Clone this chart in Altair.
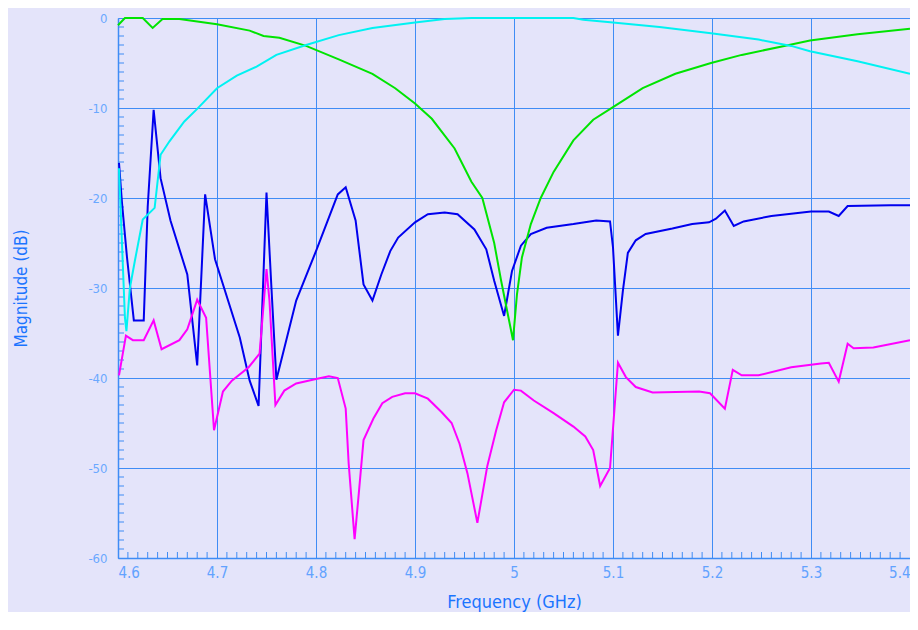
import altair as alt
import pandas as pd

# ---- data ----
blue_f = [4.601, 4.604, 4.609, 4.616, 4.626, 4.630, 4.636, 4.643, 4.653, 4.670,
          4.680, 4.688, 4.698, 4.723, 4.733, 4.742, 4.743, 4.750, 4.755, 4.760,
          4.780, 4.800, 4.822, 4.830, 4.840, 4.848, 4.857, 4.866, 4.875, 4.883,
          4.900, 4.913, 4.930, 4.943, 4.960, 4.972, 4.980, 4.990, 4.998, 5.007,
          5.017, 5.033, 5.060, 5.083, 5.097, 5.100, 5.105, 5.110, 5.115, 5.123,
          5.133, 5.160, 5.180, 5.197, 5.204, 5.213, 5.222, 5.232, 5.260, 5.300,
          5.318, 5.328, 5.337, 5.380, 5.400]
blue_db = [-16.1, -20.5, -26.5, -33.6, -33.6, -21.0, -10.2, -17.8, -22.5, -28.5,
           -38.6, -19.6, -26.8, -35.5, -40.3, -43.1, -40.2, -19.4, -30.0, -40.2,
           -31.4, -25.9, -19.6, -18.8, -22.5, -29.6, -31.4, -28.5, -25.9, -24.4,
           -22.7, -21.8, -21.6, -21.8, -23.5, -25.7, -29.2, -33.1, -28.1, -25.3,
           -24.0, -23.3, -22.9, -22.5, -22.6, -25.5, -35.3, -30.3, -26.1, -24.7,
           -24.0, -23.4, -22.9, -22.7, -22.3, -21.4, -23.1, -22.6, -22.0, -21.5,
           -21.5, -22.0, -20.9, -20.8, -20.8]

magenta_f = [4.601, 4.608, 4.615, 4.626, 4.636, 4.644, 4.662, 4.670, 4.680, 4.689,
             4.697, 4.706, 4.715, 4.732, 4.743, 4.750, 4.753, 4.759, 4.768, 4.780,
             4.800, 4.813, 4.822, 4.830, 4.833, 4.839, 4.843, 4.848, 4.858, 4.867,
             4.877, 4.890, 4.900, 4.913, 4.927, 4.937, 4.945, 4.953, 4.963, 4.973,
             4.982, 4.990, 5.000, 5.007, 5.020, 5.040, 5.060, 5.072, 5.080, 5.087,
             5.097, 5.105, 5.113, 5.123, 5.140, 5.187, 5.198, 5.213, 5.221, 5.230,
             5.247, 5.280, 5.310, 5.318, 5.328, 5.337, 5.343, 5.363, 5.400]
magenta_db = [-39.7, -35.3, -35.8, -35.8, -33.6, -36.8, -35.8, -34.6, -31.3, -33.3,
              -45.8, -41.5, -40.3, -38.8, -37.3, -27.9, -31.4, -43.0, -41.4, -40.6,
              -40.1, -39.8, -40.0, -43.4, -49.5, -57.9, -53.1, -46.9, -44.5, -42.8,
              -42.1, -41.7, -41.7, -42.3, -43.8, -45.0, -47.3, -50.6, -56.1, -49.8,
              -45.8, -42.7, -41.3, -41.4, -42.5, -43.9, -45.4, -46.5, -48.0, -52.0,
              -50.0, -38.3, -39.9, -41.0, -41.6, -41.5, -41.7, -43.4, -39.1, -39.7,
              -39.7, -38.8, -38.4, -38.3, -40.4, -36.2, -36.7, -36.6, -35.8]

cyan_f = [4.601, 4.607, 4.6085, 4.612, 4.617, 4.625, 4.637, 4.643, 4.652, 4.667,
          4.680, 4.700, 4.720, 4.740, 4.760, 4.790, 4.823, 4.857, 4.900, 4.930,
          4.957, 5.060, 5.070, 5.100, 5.147, 5.199, 5.247, 5.280, 5.299, 5.347,
          5.400]
cyan_db = [-16.7, -33.3, -34.8, -30.0, -27.0, -22.4, -21.1, -15.2, -13.7, -11.5,
           -10.1, -7.8, -6.4, -5.4, -4.1, -3.0, -1.9, -1.1, -0.5, -0.1,
           0.0, 0.0, -0.2, -0.5, -1.0, -1.7, -2.4, -3.1, -3.7, -4.8,
           -6.2]

green_f = [4.600, 4.607, 4.625, 4.635, 4.645, 4.662, 4.700, 4.733, 4.747, 4.763,
           4.790, 4.823, 4.857, 4.880, 4.900, 4.917, 4.940, 4.957, 4.968, 4.980,
           4.987, 4.993, 4.999, 5.003, 5.008, 5.017, 5.027, 5.040, 5.060, 5.080,
           5.100, 5.130, 5.163, 5.199, 5.230, 5.273, 5.299, 5.347, 5.400]
green_db = [-0.8, 0.0, 0.0, -1.1, -0.1, -0.1, -0.7, -1.4, -2.0, -2.2,
            -3.1, -4.6, -6.2, -7.8, -9.5, -11.2, -14.5, -18.2, -20.0, -25.0,
            -29.2, -32.5, -35.8, -30.7, -26.6, -22.9, -20.0, -17.1, -13.6, -11.3,
            -9.9, -7.8, -6.2, -5.0, -4.1, -3.1, -2.5, -1.8, -1.2]

x_major = [4.6, 4.7, 4.8, 4.9, 5.0, 5.1, 5.2, 5.3, 5.4]
y_major = [0, -10, -20, -30, -40, -50, -60]
x_minor = [round(4.6 + i / 100, 2) for i in range(1, 80) if i % 10]
y_minor = [v for v in range(-59, 0) if v % 10]

series_names = ["blue", "magenta", "green", "cyan"]
series_colors = ["#0000ee", "#ff00ff", "#00e400", "#00f2f2"]

rows = []
for name, fs, ds in [("blue", blue_f, blue_db), ("magenta", magenta_f, magenta_db),
                     ("green", green_f, green_db), ("cyan", cyan_f, cyan_db)]:
    for i, (f, d) in enumerate(zip(fs, ds)):
        rows.append({"series": name, "f": f, "db": d, "i": i})
df = pd.DataFrame(rows)

W, H = 792, 540
FONT = "DejaVu Sans Condensed, Liberation Sans Narrow, DejaVu Sans, sans-serif"
GRID = "#3f8cf5"

xscale = alt.Scale(domain=[4.6, 5.4], nice=False, zero=False)
yscale = alt.Scale(domain=[-60, 0], nice=False, zero=False)

lines = alt.Chart(df).mark_line(strokeWidth=2, clip=False).encode(
    x=alt.X("f:Q", scale=xscale,
            axis=alt.Axis(values=x_major, labelExpr="'' + datum.value",
                          grid=True, gridColor=GRID, gridOpacity=1, gridWidth=1,
                          domain=True, domainColor=GRID, domainWidth=1.5,
                          ticks=False, tickSize=0, labelPadding=7,
                          labelFont=FONT, labelFontSize=15, labelColor="#62a2ff",
                          title="Frequency (GHz)", titleFont=FONT, titleFontSize=18,
                          titleFontWeight="normal", titleColor="#1b74ff",
                          titleY=49, titleBaseline="alphabetic")),
    y=alt.Y("db:Q", scale=yscale,
            axis=alt.Axis(values=y_major, labelExpr="'' + datum.value",
                          grid=True, gridColor=GRID, gridOpacity=1, gridWidth=1,
                          domain=True, domainColor=GRID, domainWidth=1.5,
                          ticks=False, tickSize=0, labelPadding=11,
                          labelFont=FONT, labelFontSize=13, labelColor="#6aa8ff",
                          title="Magnitude (dB)", titleFont=FONT, titleFontSize=17,
                          titleFontWeight="normal", titleColor="#1b74ff",
                          titleX=-97, titleY=H / 2, titleAngle=-90,
                          titleAlign="center", titleBaseline="middle")),
    color=alt.Color("series:N", scale=alt.Scale(domain=series_names, range=series_colors),
                    legend=None),
    order="i:Q",
)

ymin = alt.Chart(pd.DataFrame({"v": y_minor})).mark_rule(color=GRID, strokeWidth=1).encode(
    y=alt.Y("v:Q", scale=yscale), x=alt.value(0), x2=alt.value(6))
xmin = alt.Chart(pd.DataFrame({"v": x_minor})).mark_rule(color=GRID, strokeWidth=1).encode(
    x=alt.X("v:Q", scale=xscale), y=alt.value(H), y2=alt.value(H - 6))

chart = alt.layer(ymin, xmin, lines).properties(
    width=W, height=H,
    autosize=alt.AutoSizeParams(type="none"),
    padding={"left": 110, "top": 10, "right": 0, "bottom": 54},
    background="#e4e4fa",
).configure_view(fill="#e4e4fa", stroke="transparent")

chart.save("out.html", embed_options={"renderer": "svg", "actions": False})
